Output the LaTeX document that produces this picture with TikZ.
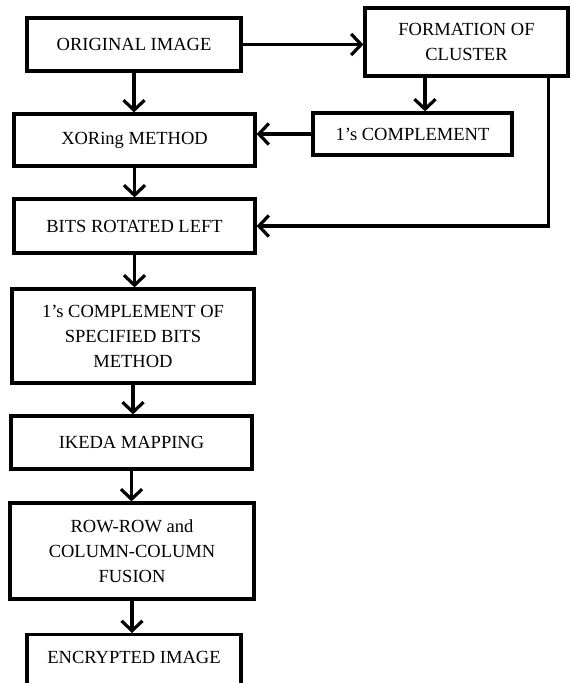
\documentclass[tikz,border=0pt]{standalone}
\usepackage{fontspec}
\setmainfont{Liberation Serif}
\usetikzlibrary{arrows.meta}
\usetikzlibrary{shadows}

\tikzset{
  blk/.style={draw, line width=3.2pt, fill=white, align=center, inner sep=0pt,
    font=\fontsize{18.5}{25}\selectfont,
    drop shadow={shadow xshift=2pt, shadow yshift=-2pt, opacity=0.3}},
  flow/.style={line width=3.2pt, -{Straight Barb[length=10pt,width=21pt,line width=3.2pt]}}
}

\begin{document}
\begin{tikzpicture}[x=1pt,y=-1pt]

\useasboundingbox (0,0) rectangle (570,683);
\clip (0,0) rectangle (570,683);

\node[blk, minimum width=214pt, minimum height=53pt] (orig) at (134,44.5) {ORIGINAL IMAGE};
\node[blk, minimum width=203pt, minimum height=68pt] (cluster) at (466.5,42) {FORMATION OF\\CLUSTER};
\node[blk, minimum width=241pt, minimum height=52pt] (xor) at (134.5,140) {XORing METHOD};
\node[blk, minimum width=199pt, minimum height=42pt] (comp) at (412.5,134) {1’s COMPLEMENT};
\node[blk, minimum width=241pt, minimum height=54pt] (bits) at (134.5,226) {BITS ROTATED LEFT};
\node[blk, minimum width=242pt, minimum height=94pt] (spec) at (133,336) {1’s COMPLEMENT OF\\SPECIFIED BITS\\METHOD};
\node[blk, minimum width=241pt, minimum height=53pt] (ikeda) at (131.5,442.5) {IKEDA MAPPING};
\node[blk, minimum width=244pt, minimum height=96pt] (fusion) at (132,551) {ROW-ROW and\\COLUMN-COLUMN\\FUSION};
\node[blk, minimum width=214pt, text height=29pt, text depth=31pt, anchor=north] (enc) at (134,633) {ENCRYPTED IMAGE};

\foreach \i/\j in {orig/xor, xor/bits, bits/spec, spec/ikeda, ikeda/fusion, fusion/enc}
    \draw[flow] (\i.south) -- (\i.south |- \j.north);

\draw[flow] (orig.east) -- (cluster.west |- orig.east);
\draw[flow] ([xshift=12.5pt]comp.north |- cluster.south) -- ([xshift=12.5pt]comp.north);
\draw[flow] (comp.west) -- (xor.east |- comp.west);
\draw[flow] ([xshift=-21pt]cluster.south east) |- (bits.east);
%
\end{tikzpicture}
\end{document}
